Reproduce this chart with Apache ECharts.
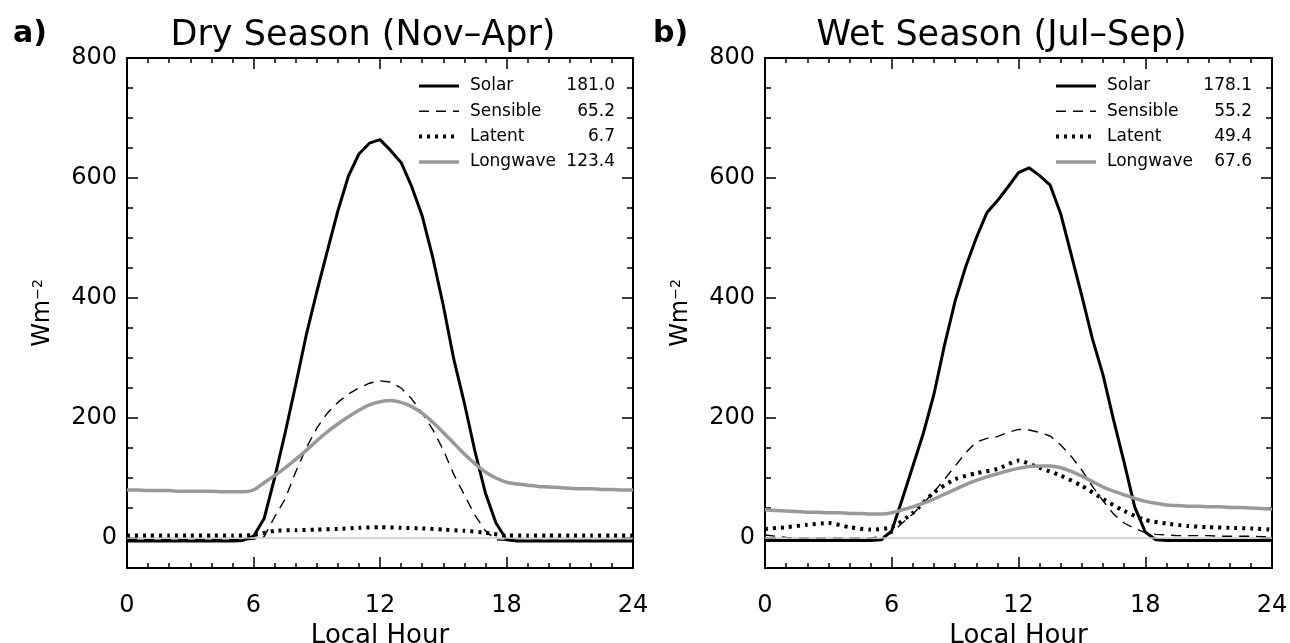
<!DOCTYPE html>
<html>
<head>
<meta charset="utf-8">
<script src="https://cdn.jsdelivr.net/npm/echarts@6/dist/echarts.min.js"></script>
<style>
html,body{margin:0;padding:0;background:#fff;}
#chart{width:1290px;height:643px;}
</style>
</head>
<body>
<div id="chart"></div>
<script>
// ---- data ----
const hoursHalf = [0,0.5,1,1.5,2,2.5,3,3.5,4,4.5,5,5.5,6,6.5,7,7.5,8,8.5,9,9.5,10,10.5,11,11.5,12,12.5,13,13.5,14,14.5,15,15.5,16,16.5,17,17.5,18,18.5,19,19.5,20,20.5,21,21.5,22,22.5,23,23.5,24];
const hoursFull = [0,1,2,3,4,5,6,7,8,9,10,11,12,13,14,15,16,17,18,19,20,21,22,23,24];

const drySolar = [-5,-5,-5,-5,-5,-5,-5,-5,-5,-5,-5,-4,3,32,100,175,255,338,410,478,545,603,640,658,664,646,626,586,537,468,388,298,225,145,75,25,-3,-5,-5,-5,-5,-5,-5,-5,-5,-5,-5,-5,-5];
const drySensible = [-3,-3,-3,-3,-3,-3,-3,-3,-3,-3,-3,-3,-2,2,35,65,110,150,183,208,226,240,250,258,262,260,250,232,208,181,147,106,72,38,12,-3,-4,-4,-4,-4,-4,-4,-4,-4,-4,-4,-4,-4,-4];
const dryLatent = [4,4,4,4,4,4,5,12,13,14,15,17,18,17,16,14,12,9,4,4,4,4,4,4,4];
const dryLongwave = [80,80,79,79,79,78,78,78,78,77,77,77,80,92,104,117,131,146,162,177,190,202,213,222,227,229,226,219,208,193,176,158,140,124,110,100,93,90,88,86,85,84,83,82,82,81,81,80,80];

const wetSolar = [-4,-4,-4,-4,-4,-4,-4,-4,-4,-4,-4,-3,12,65,120,175,240,322,395,452,500,542,562,585,609,617,604,588,540,472,403,332,272,197,126,52,10,-3,-4,-4,-4,-4,-4,-4,-4,-4,-4,-4,-4];
const wetSensible = [5,3,1,0,0,0,0,0,0,0,0,2,8,25,40,58,77,98,120,142,160,166,169,176,181,180,176,170,155,136,113,86,62,40,25,16,9,6,5,4,4,4,4,3,3,3,3,2,2];
const wetLatent = [15,18,22,25,18,14,18,42,76,98,108,115,129,117,104,87,65,45,30,24,20,18,17,16,14];
const wetLongwave = [47,46,45,44,43,43,42,42,41,41,40,40,42,47,52,58,65,73,81,89,96,102,107,112,116,119,120,120,117,111,103,94,85,78,72,66,61,58,55,54,53,53,52,52,51,51,50,49,48];

const seriesNames = ['Solar','Sensible','Latent','Longwave'];
const dryMeans = ['181.0','65.2','6.7','123.4'];
const wetMeans = ['178.1','55.2','49.4','67.6'];
const panelTitles = ['Dry Season (Nov\u2013Apr)','Wet Season (Jul\u2013Sep)'];
const panelLetters = ['a)','b)'];
const xTicks = [0,6,12,18,24];
const yMajor = [0,200,400,600,800];

// ---- build ----
const FONT = 'DejaVu Sans';
const pairs = (xs, ys) => xs.map((x, i) => [x, ys[i]]);

const grids = [
  {left: 127, right: 657, top: 58, bottom: 75, containLabel: false, outerBoundsMode: 'none'},
  {left: 765, right: 18, top: 58, bottom: 75, containLabel: false, outerBoundsMode: 'none'}
];

const xAxes = [], yAxes = [], series = [], legends = [], titles = [];

const styles = {
  Solar: {color: '#000', width: 3, type: 'solid'},
  Sensible: {color: '#000', width: 1.4, type: [10, 7]},
  Latent: {color: '#000', width: 4, type: [3, 5]},
  Longwave: {color: '#999', width: 3.5, type: 'solid'}
};

grids.forEach((g, gi) => {
  const axisLine = {show: true, onZero: false, lineStyle: {color: '#000', width: 2}};
  // bottom x
  xAxes.push({
    gridIndex: gi, type: 'value', min: 0, max: 24, interval: 6, position: 'bottom',
    axisLine, splitLine: {show: false},
    axisTick: {inside: true, length: 11, lineStyle: {color: '#000', width: 1.5}},
    minorTick: {show: true, splitNumber: 6, length: 5, lineStyle: {color: '#000', width: 1.5}},
    axisLabel: {fontFamily: FONT, fontSize: 24, color: '#000', margin: 26,
                customValues: xTicks},
    name: 'Local Hour', nameLocation: 'middle', nameGap: 52,
    nameTextStyle: {fontFamily: FONT, fontSize: 26, color: '#000'}
  });
  // top x
  xAxes.push({
    gridIndex: gi, type: 'value', min: 0, max: 24, interval: 6, position: 'top',
    axisLine, splitLine: {show: false},
    axisTick: {inside: true, length: 11, lineStyle: {color: '#000', width: 1.5}},
    minorTick: {show: true, splitNumber: 6, length: 5, lineStyle: {color: '#000', width: 1.5}},
    axisLabel: {show: false}
  });
  const yBase = {gridIndex: gi, type: 'value', min: -50, max: 800, interval: 50,
                 splitLine: {show: false}};
  // left main (labels + minor ticks)
  yAxes.push(Object.assign({}, yBase, {
    position: 'left', axisLine,
    axisTick: {inside: true, length: 6, lineStyle: {color: '#000', width: 1.5}},
    axisLabel: {fontFamily: FONT, fontSize: 24, color: '#000', margin: 10, customValues: yMajor},
    name: 'Wm{s|\u22122}', nameLocation: 'middle', nameGap: 72, nameRotate: 90,
    nameTextStyle: {fontFamily: FONT, fontSize: 24, color: '#000', padding: [0,0,0,0],
      rich: {s: {fontFamily: FONT, fontSize: 14, verticalAlign: 'top', padding: [0,0,10,0], color: '#000'}}}
  }));
  // left major ticks
  yAxes.push(Object.assign({}, yBase, {
    position: 'left', axisLine: {show: false, onZero: false},
    axisTick: {inside: true, length: 11, customValues: yMajor, lineStyle: {color: '#000', width: 1.5}},
    axisLabel: {show: false}
  }));
  // right minor
  yAxes.push(Object.assign({}, yBase, {
    position: 'right', axisLine,
    axisTick: {inside: true, length: 6, lineStyle: {color: '#000', width: 1.5}},
    axisLabel: {show: false}
  }));
  // right major
  yAxes.push(Object.assign({}, yBase, {
    position: 'right', axisLine: {show: false, onZero: false},
    axisTick: {inside: true, length: 11, customValues: yMajor, lineStyle: {color: '#000', width: 1.5}},
    axisLabel: {show: false}
  }));

  const dataSets = gi === 0
    ? [pairs(hoursHalf, drySolar), pairs(hoursHalf, drySensible), pairs(hoursFull, dryLatent), pairs(hoursHalf, dryLongwave)]
    : [pairs(hoursHalf, wetSolar), pairs(hoursHalf, wetSensible), pairs(hoursFull, wetLatent), pairs(hoursHalf, wetLongwave)];

  seriesNames.forEach((nm, si) => {
    const st = styles[nm];
    const s = {
      name: nm, type: 'line', xAxisIndex: gi * 2, yAxisIndex: gi * 4,
      data: dataSets[si], symbol: 'none', showSymbol: false,
      smooth: nm === 'Longwave' ? 0.3 : (nm === 'Latent' ? 0.2 : false),
      lineStyle: {color: st.color, width: st.width, type: st.type, cap: 'butt'},
      itemStyle: {color: st.color},
      z: 3 + si, animation: false, silent: true
    };
    if (si === 0) {
      s.markLine = {
        silent: true, symbol: 'none', animation: false,
        label: {show: false},
        lineStyle: {color: '#c8c8c8', width: 1.5, type: 'solid'},
        data: [{yAxis: 0}]
      };
    }
    series.push(s);
  });

  const means = gi === 0 ? dryMeans : wetMeans;
  legends.push({
    orient: 'vertical',
    left: gi === 0 ? 417 : 1054,
    top: 77,
    padding: 0,
    itemWidth: 40, itemHeight: 14, itemGap: 7.3,
    data: seriesNames,
    selectedMode: false,
    itemStyle: {opacity: 0},
    lineStyle: {width: 'inherit', type: 'inherit', color: 'inherit'},
    formatter: (name) => '{g|}{n|' + name + '}{v|' + means[seriesNames.indexOf(name)] + '}',
    textStyle: {
      fontFamily: FONT, fontSize: 17, color: '#000', lineHeight: 18,
      rich: {
        g: {width: 6},
        n: {width: 94, fontFamily: FONT, fontSize: 17, color: '#000', align: 'left'},
        v: {width: 51, fontFamily: FONT, fontSize: 17, color: '#000', align: 'right'}
      }
    }
  });

  const cx = g.left + (1290 - g.left - g.right) / 2 - 22;
  titles.push({
    text: panelTitles[gi], left: cx, top: 13, textAlign: 'center',
    textStyle: {fontFamily: FONT, fontSize: 35, fontWeight: 'normal', color: '#000'}
  });
  titles.push({
    text: panelLetters[gi], left: gi === 0 ? 8 : 648, top: 14,
    textStyle: {fontFamily: FONT, fontSize: 30, fontWeight: 'bold', color: '#000'}
  });
});

const chart = echarts.init(document.getElementById('chart'), null, {renderer: 'canvas'});
chart.setOption({
  animation: false,
  backgroundColor: '#fff',
  title: titles,
  grid: grids,
  xAxis: xAxes,
  yAxis: yAxes,
  legend: legends,
  series: series
});
</script>
</body>
</html>
